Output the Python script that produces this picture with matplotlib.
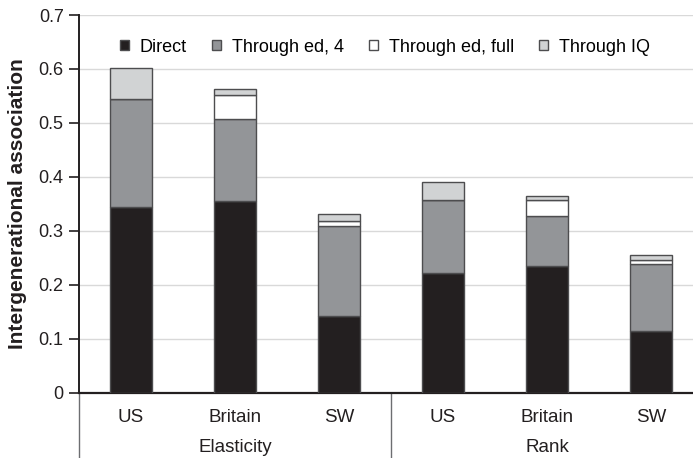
import matplotlib
matplotlib.use("Agg")
import matplotlib.pyplot as plt
from matplotlib.patches import Patch
import numpy as np

plt.rcParams['font.family'] = ['Liberation Sans', 'DejaVu Sans']

categories = ["US", "Britain", "SW", "US", "Britain", "SW"]
groups = ["Elasticity", "Rank"]
direct = [0.344, 0.356, 0.142, 0.222, 0.234, 0.114]
through_ed4 = [0.200, 0.152, 0.167, 0.136, 0.093, 0.125]
through_ed_full = [0.000, 0.044, 0.009, 0.000, 0.030, 0.007]
through_iq = [0.058, 0.010, 0.014, 0.032, 0.007, 0.009]
series_names = ["Direct", "Through ed, 4", "Through ed, full", "Through IQ"]
series_colors = ["#231f20", "#939598", "#ffffff", "#d1d3d4"]
yticks = [0, 0.1, 0.2, 0.3, 0.4, 0.5, 0.6, 0.7]
ytick_labels = ["0", "0.1", "0.2", "0.3", "0.4", "0.5", "0.6", "0.7"]

W, H = 693, 458
fig = plt.figure(figsize=(W / 100, H / 100), dpi=100)
ax_left, ax_right = 79, 703
ax_top, ax_bot = 15, 392.7
axh = ax_bot - ax_top
ax = fig.add_axes([ax_left / W, (H - ax_bot) / H, (ax_right - ax_left) / W, axh / H])

x = np.arange(len(categories))
bottom = np.zeros(len(categories))
edge = "#4d4d4f"
for vals, col in zip([direct, through_ed4, through_ed_full, through_iq], series_colors):
    v = np.array(vals)
    ax.bar(x, v, width=0.41, bottom=bottom, color=col, edgecolor=edge, linewidth=1.0, zorder=3)
    bottom += v

ax.set_xlim(-0.5, 5.5)
ax.set_ylim(0, 0.7)
ax.set_yticks(yticks)
ax.set_yticklabels(ytick_labels, fontsize=13, color="#231f20")
ax.yaxis.grid(True, color="#d9d9d9", linewidth=1.0, zorder=0)
ax.set_axisbelow(True)
ax.tick_params(axis='y', direction='out', length=7, width=1.2, color="#231f20", pad=4)
ax.set_xticks(x)
ax.set_xticklabels(categories, fontsize=13.5, color="#231f20")
ax.tick_params(axis='x', length=0, pad=12)

for s in ["top", "right"]:
    ax.spines[s].set_visible(False)
ax.spines["left"].set_linewidth(1.4)
ax.spines["left"].set_color("#231f20")
ax.spines["bottom"].set_linewidth(1.6)
ax.spines["bottom"].set_color("#231f20")

ax.set_ylabel("Intergenerational association", fontsize=15, fontweight="bold", color="#231f20")
ax.yaxis.set_label_coords((27 - ax_left) / (ax_right - ax_left), 0.5)

# group dividers and labels
trans = ax.get_xaxis_transform()
ylow = -(H - ax_bot) / axh
for xd in [-0.5, 2.5, 5.5]:
    ax.plot([xd, xd], [0, ylow], transform=trans, color="#6d6e71", linewidth=1.0, clip_on=False)
for i, g in enumerate(groups):
    ax.text(1 + 3 * i, -(447 - ax_bot) / axh, g, transform=trans, ha="center", va="center",
            fontsize=13.5, color="#231f20")

handles = [Patch(facecolor=c, edgecolor=edge, linewidth=1.0) for c in series_colors]
fig.legend(handles, series_names, loc="center", bbox_to_anchor=(385 / W, 1 - 47 / H), ncol=4,
           frameon=False, fontsize=13, handlelength=0.5, handleheight=0.5, columnspacing=1.4,
           handletextpad=0.6)

fig.savefig("out.png", dpi=100)
